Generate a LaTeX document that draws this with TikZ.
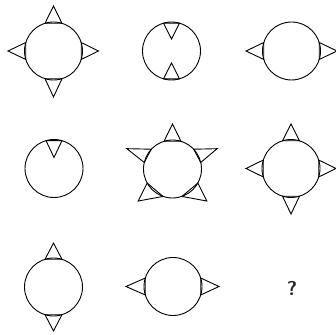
\documentclass[tikz,border=0pt]{standalone}
\usetikzlibrary{positioning}
\tikzset{
  ring/.style={circle, draw=black, line width=0.9pt, minimum size=58pt,
               inner sep=0pt, outer sep=0pt},
  petal/.style={draw=black, line width=0.9pt, line join=miter},
  qmark/.style={font=\sffamily\bfseries\fontsize{20}{20}\selectfont, text=black!85},
}
% petal: node, apex angle, apex distance, base angle 1, base angle 2
\newcommand{\petal}[5]{%
  \draw[petal] (#1.#4) -- ([shift={(#2:#3)}]#1.center) -- (#1.#5) -- cycle;}

\begin{document}
\begin{tikzpicture}[x=1pt, y=1pt]
  \useasboundingbox (0,0) rectangle (336,334);

  % top row
  \node[ring] (c1) at (53.5, 283) {};
  \petal{c1}{90}{45}{73}{107}
  \petal{c1}{0}{45}{-17}{17}
  \petal{c1}{180}{45.5}{163}{197}
  \petal{c1}{270}{46}{253}{287}

  \node[ring] (c2) at (171.5, 283) {};
  \petal{c2}{90}{12}{74}{106}
  \petal{c2}{270}{12}{254}{286}

  \node[ring] (c3) at (291.5, 283) {};
  \petal{c3}{180}{45.5}{163}{197}
  \petal{c3}{0}{45.5}{-17}{17}

  % middle row
  \node[ring] (c4) at (54, 165.5) {};
  \petal{c4}{90}{11}{74}{106}

  \node[ring] (c5) at (172.5, 165) {};
  \petal{c5}{90}{45}{73}{107}
  \petal{c5}{156}{50}{137}{167}
  \petal{c5}{24.5}{49}{43}{13}
  \petal{c5}{223}{47}{209}{251}
  \petal{c5}{317}{47}{331}{289}

  \node[ring] (c6) at (291, 165.5) {};
  \petal{c6}{90}{44.5}{73}{107}
  \petal{c6}{0}{45}{-17}{17}
  \petal{c6}{180}{45}{163}{197}
  \petal{c6}{270}{45.5}{253}{287}

  % bottom row
  \node[ring] (c7) at (53.5, 47) {};
  \petal{c7}{90}{44}{73}{107}
  \petal{c7}{270}{44}{253}{287}

  \node[ring] (c8) at (173, 47.5) {};
  \petal{c8}{180}{47}{163}{197}
  \petal{c8}{0}{46}{-17}{17}

  \node[qmark] (q) at (292, 46) {?};
\end{tikzpicture}
\end{document}
